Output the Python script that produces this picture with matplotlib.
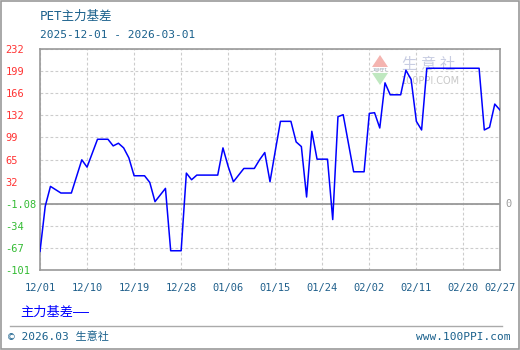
import pandas as pd
import matplotlib
matplotlib.use('Agg')
import matplotlib.pyplot as plt
import matplotlib.dates as mdates
from matplotlib.lines import Line2D
from matplotlib.patches import Polygon, Rectangle
from matplotlib.transforms import blended_transform_factory

plt.rcParams['font.family'] = ['DejaVu Sans Mono', 'Noto Sans CJK SC']

# data (vertices of the line)
dates = ['2025-12-01', '2025-12-02', '2025-12-03', '2025-12-04', '2025-12-05', '2025-12-07',
         '2025-12-09', '2025-12-10', '2025-12-12', '2025-12-14', '2025-12-15', '2025-12-16',
         '2025-12-17', '2025-12-18', '2025-12-19', '2025-12-21', '2025-12-22', '2025-12-23',
         '2025-12-24', '2025-12-25', '2025-12-26', '2025-12-28', '2025-12-29', '2025-12-30',
         '2025-12-31', '2026-01-04', '2026-01-05', '2026-01-06', '2026-01-07', '2026-01-09',
         '2026-01-11', '2026-01-12', '2026-01-13', '2026-01-14', '2026-01-15', '2026-01-16',
         '2026-01-18', '2026-01-19', '2026-01-20', '2026-01-21', '2026-01-22', '2026-01-23',
         '2026-01-25', '2026-01-26', '2026-01-27', '2026-01-28', '2026-01-29', '2026-01-30',
         '2026-02-01', '2026-02-02', '2026-02-03', '2026-02-04', '2026-02-05', '2026-02-06',
         '2026-02-08', '2026-02-09', '2026-02-10', '2026-02-11', '2026-02-12', '2026-02-13',
         '2026-02-23', '2026-02-24', '2026-02-25', '2026-02-26', '2026-02-27']
basis = [-73, -5, 25, 20, 15, 15,
         65, 54, 96, 96, 86, 90,
         83, 68, 41, 41, 31, 2,
         12, 22, -72, -72, 45, 35,
         42, 42, 83, 55, 32, 52,
         52, 65, 76, 32, 78, 123,
         123, 92, 85, 9, 108, 66,
         66, -25, 130, 133, 90, 47,
         47, 135, 136, 113, 181, 163,
         163, 200, 186, 123, 110, 203,
         203, 110, 114, 149, 140]

ytick_labels = ['232', '199', '166', '132', '99', '65', '32', '-1.08', '-34', '-67', '-101']
xtick_dates = ['2025-12-01', '2025-12-10', '2025-12-19', '2025-12-28', '2026-01-06', '2026-01-15',
               '2026-01-24', '2026-02-02', '2026-02-11', '2026-02-20', '2026-02-27']

W, H = 520, 350


def fx(x):
    return x / W


def fy(y):
    return 1 - y / H


fig = plt.figure(figsize=(5.2, 3.5), dpi=100)
fig.patch.set_facecolor('white')
ax = fig.add_axes([fx(40), fy(270), fx(460), 221 / H])
ax.set_facecolor('none')

d = pd.to_datetime(dates)
ax.plot(d, basis, color='#0000ff', lw=1.1, zorder=5)

ymin, ymax = -101, 232
ax.set_ylim(ymin, ymax)
ypos = [ymax - i * (ymax - ymin) / 10 for i in range(11)]
ax.set_yticks(ypos)
ax.set_yticklabels(ytick_labels)
for lab, txt in zip(ax.get_yticklabels(), ytick_labels):
    lab.set_color('#33bb33' if txt.startswith('-') else '#ff3333')
    lab.set_horizontalalignment('left')
ax.tick_params(axis='y', length=0, pad=25, labelsize=7.5)

xt = pd.to_datetime(xtick_dates)
ax.set_xlim(xt[0], xt[-1])
ax.set_xticks(xt)
ax.xaxis.set_major_formatter(mdates.DateFormatter('%m/%d'))
ax.tick_params(axis='x', length=0, pad=9, labelsize=7.5, labelcolor='#1f5f8b')

ax.grid(True, color='#cccccc', linestyle=(0, (2.5, 2)), lw=0.8)
ax.axhline(-1.08, color='#999999', lw=1.3, zorder=3)
for s in ax.spines.values():
    s.set_color('#999999')
    s.set_linewidth(1.2)

tr = blended_transform_factory(ax.transAxes, ax.transData)
ax.text(1.012, -1.08, '0', transform=tr, color='#999999', fontsize=7.5,
        va='center', ha='left')

# header
fig.text(fx(40), fy(16), 'PET主力基差', color='#19608c', fontsize=9, va='center')
fig.text(fx(40), fy(35), '2025-12-01 - 2026-03-01', color='#19608c', fontsize=8, va='center')

# legend
fig.text(fx(20), fy(312), '主力基差——', color='#0000ff', fontsize=9.5, va='center')

# footer
fig.add_artist(Line2D([fx(10), fx(502)], [fy(326), fy(326)], color='#aaaaaa', lw=1))
fig.text(fx(8), fy(337), '© 2026.03 生意社', color='#19608c', fontsize=8, va='center')
fig.text(fx(510), fy(337), 'www.100PPI.com', color='#19608c', fontsize=8, va='center', ha='right')

# watermark
fig.add_artist(Polygon([[fx(372), fy(67)], [fx(388), fy(67)], [fx(380), fy(55)]],
                       closed=True, facecolor='#f4b4b0', edgecolor='none', zorder=-1))
fig.add_artist(Polygon([[fx(372), fy(73)], [fx(388), fy(73)], [fx(380), fy(85)]],
                       closed=True, facecolor='#bfe8c0', edgecolor='none', zorder=-1))
fig.text(fx(380), fy(70), '100PPI', color='#8899aa', fontsize=3, ha='center', va='center', zorder=-1)
for cx, ch in zip([409, 428, 447], '生意社'):
    fig.text(fx(cx), fy(65), ch, color='#c8cde2', fontsize=11, ha='center', va='center',
             family='Noto Sans CJK SC', zorder=-1)
fig.text(fx(431), fy(81), '100PPI.COM', color='#c8c8c8', fontsize=7, ha='center', va='center',
         family='DejaVu Sans', zorder=-1)

# outer border
fig.add_artist(Rectangle((0.001, 0.002), 0.997, 0.995, transform=fig.transFigure,
                         fill=False, edgecolor='#999999', lw=1.2))

fig.savefig('out.png', dpi=100)
